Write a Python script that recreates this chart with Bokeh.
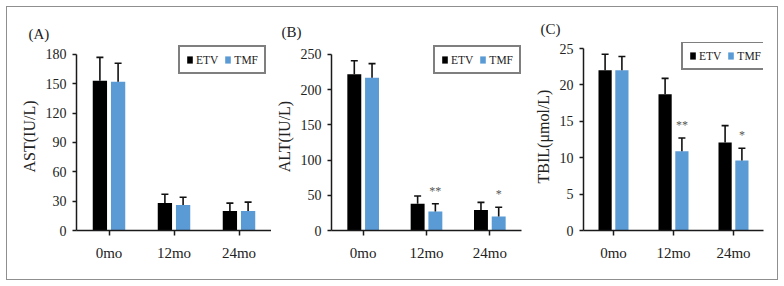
from bokeh.plotting import figure
from bokeh.layouts import row
from bokeh.models import (ColumnDataSource, FactorRange, Range1d, SingleIntervalTicker,
                          Legend, LegendItem)
from bokeh.transform import dodge
from bokeh.core.properties import value
from bokeh.embed import file_html
from bokeh.resources import INLINE

# Follow-up time points
months = ["0mo", "12mo", "24mo"]

# AST (IU/L): means and SD
ast_etv = [153, 28, 20]
ast_etv_sd = [24, 9, 8]
ast_tmf = [152, 26, 20]
ast_tmf_sd = [19, 8, 9]
ast_marks = ["", "", ""]

# ALT (IU/L)
alt_etv = [222, 38, 29]
alt_etv_sd = [19, 11, 11]
alt_tmf = [217, 27, 20]
alt_tmf_sd = [20, 11, 13]
alt_marks = ["", "**", "*"]

# TBIL (umol/L)
tbil_etv = [22.0, 18.7, 12.1]
tbil_etv_sd = [2.2, 2.2, 2.3]
tbil_tmf = [22.0, 10.9, 9.6]
tbil_tmf_sd = [1.9, 1.8, 1.7]
tbil_marks = ["", "**", "*"]

ETV_COLOR = "#000000"
TMF_COLOR = "#5B9BD5"
FONT = "Liberation Serif"
OFF = 0.14
BAR_W = 0.22
FRAME_TOP = 42   # frame starts here; the axis itself stops at ymax


def panel(tag, ylabel, ymax, step, etv, etv_sd, tmf, tmf_sd, marks,
          width, left, right, axis_top, axis_bottom, tag_offset, tag_standoff, legend_pos):
    src = ColumnDataSource(dict(
        x=months,
        etv=etv, etv_hi=[m + s for m, s in zip(etv, etv_sd)],
        tmf=tmf, tmf_hi=[m + s for m, s in zip(tmf, tmf_sd)],
        mark=marks,
    ))
    # extend the range above ymax so the legend sits inside the frame
    y_end = ymax * (axis_bottom - FRAME_TOP) / (axis_bottom - axis_top)
    p = figure(x_range=FactorRange(*months), y_range=Range1d(0, y_end),
               width=width, height=286,
               min_border_left=left, min_border_right=right,
               min_border_top=FRAME_TOP, min_border_bottom=286 - axis_bottom,
               output_backend="svg", toolbar_location=None)
    p.border_fill_color = None
    p.background_fill_color = None
    p.outline_line_color = None
    p.xgrid.grid_line_color = None
    p.ygrid.grid_line_color = None

    p.title.text = tag
    p.title.align = "left"
    p.title.offset = tag_offset
    p.title.standoff = tag_standoff
    p.title.text_font = FONT
    p.title.text_font_size = "15px"
    p.title.text_font_style = "normal"
    p.title.text_color = "#222222"

    xe = dodge("x", -OFF, range=p.x_range)
    xt = dodge("x", OFF, range=p.x_range)

    r_etv = p.vbar(x=xe, top="etv", width=BAR_W, source=src,
                   fill_color=ETV_COLOR, line_color=None)
    r_tmf = p.vbar(x=xt, top="tmf", width=BAR_W, source=src,
                   fill_color=TMF_COLOR, line_color=None)

    # upper error bars with caps
    for xx, lo, hi in ((xe, "etv", "etv_hi"), (xt, "tmf", "tmf_hi")):
        p.segment(x0=xx, y0=lo, x1=xx, y1=hi, source=src,
                  line_color="#111111", line_width=1.6)
        p.scatter(x=xx, y=hi, marker="dash", size=7, source=src,
                  line_color="#111111", line_width=1.6)

    # significance marks over TMF bars
    p.text(x=xt, y="tmf_hi", text="mark", source=src, text_align="center",
           text_baseline="bottom", y_offset=-6, text_font=value(FONT),
           text_font_size="12px", text_color="#555555")

    for ax in (p.xaxis[0], p.yaxis[0]):
        ax.axis_line_color = "#1a1a1a"
        ax.axis_line_width = 1.5
        ax.major_tick_line_color = "#1a1a1a"
        ax.major_tick_line_width = 1.5
        ax.major_tick_in = 0
        ax.major_tick_out = 4
        ax.minor_tick_line_color = None
        ax.major_label_text_font = FONT
        ax.major_label_text_color = "#222222"

    p.yaxis.bounds = (0, ymax)
    p.yaxis.ticker = SingleIntervalTicker(interval=step, num_minor_ticks=0)
    p.yaxis.major_label_text_font_size = "14px"
    p.yaxis.major_label_standoff = 6
    p.yaxis.axis_label = ylabel
    p.yaxis.axis_label_text_font = FONT
    p.yaxis.axis_label_text_font_size = "16px"
    p.yaxis.axis_label_text_font_style = "normal"
    p.yaxis.axis_label_text_color = "#222222"
    p.yaxis.axis_label_standoff = 5

    p.xaxis.major_label_text_font_size = "15px"
    p.xaxis.major_label_standoff = 9
    p.xaxis.major_tick_out = 5

    legend = Legend(items=[LegendItem(label="ETV", renderers=[r_etv]),
                           LegendItem(label="TMF", renderers=[r_tmf])],
                    location=legend_pos, orientation="horizontal",
                    border_line_color="black", border_line_width=2,
                    background_fill_color="white", background_fill_alpha=1,
                    padding=6, spacing=6, margin=0,
                    glyph_width=7, glyph_height=9, label_standoff=3,
                    label_width=0, label_height=13, label_text_font=FONT,
                    label_text_font_size="11.5px", label_text_color="#222222")
    p.add_layout(legend)
    return p


pa = panel("(A)", "AST(IU/L)", 180, 30, ast_etv, ast_etv_sd, ast_tmf, ast_tmf_sd,
           ast_marks, width=271, left=76, right=0, axis_top=54, axis_bottom=231,
           tag_offset=-48, tag_standoff=2, legend_pos=(102, 156))
pb = panel("(B)", "ALT(IU/L)", 250, 50, alt_etv, alt_etv_sd, alt_tmf, alt_tmf_sd,
           alt_marks, width=259, left=60, right=9, axis_top=54, axis_bottom=231,
           tag_offset=-50, tag_standoff=5, legend_pos=(102, 156))
pc = panel("(C)", "TBIL(\u03bcmol/L)", 25, 5, tbil_etv, tbil_etv_sd, tbil_tmf, tbil_tmf_sd,
           tbil_marks, width=254, left=53, right=21, axis_top=48, axis_bottom=230,
           tag_offset=-43, tag_standoff=12, legend_pos=(98, 160))

layout = row(pa, pb, pc, spacing=0,
             styles={"outline": "1.5px solid #8f8f8f", "outline-offset": "-7px",
                     "background-color": "white"})

open("out.html", "w").write(file_html(layout, INLINE))
